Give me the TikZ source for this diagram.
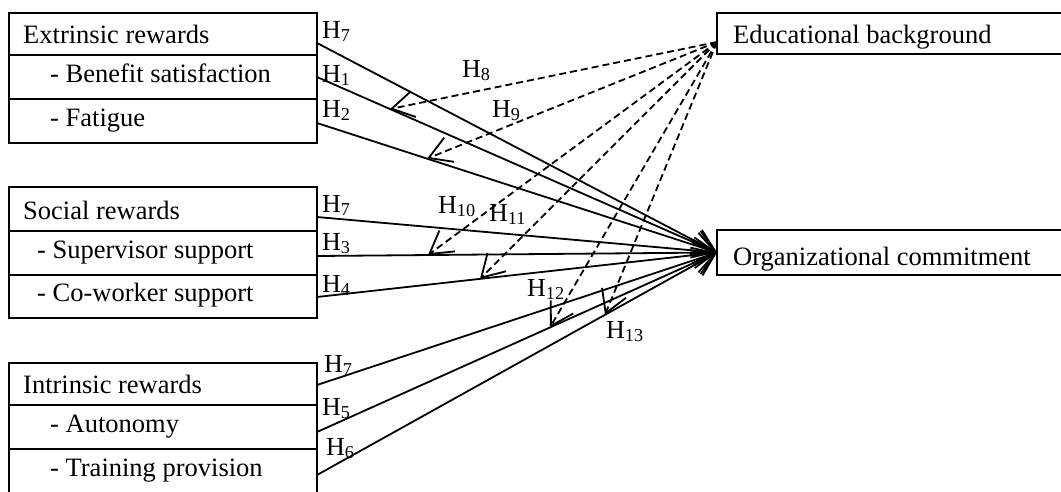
\documentclass[tikz,border=0pt]{standalone}
\usepackage{fontspec}
\setmainfont{Liberation Serif}
\usetikzlibrary{arrows.meta,calc}
\begin{document}
\begin{tikzpicture}[x=1pt,y=-1pt,
  rowbox/.style={draw, line width=2.6pt, minimum width=308pt, inner sep=0pt, outer sep=0pt},
  rbox/.style={draw, line width=2.6pt, minimum width=353pt, inner sep=0pt, outer sep=0pt},
  txt/.style={anchor=base west, inner sep=0pt, font=\fontsize{26.5}{30}\selectfont},
  hlab/.style={anchor=base west, inner sep=0pt, font=\fontsize{26}{30}\selectfont},
  conn/.style={line width=1.8pt, -{Straight Barb[length=22pt, width=26pt]}},
  modline/.style={line width=1.8pt, dash pattern=on 7pt off 4pt, -{Straight Barb[length=22pt, width=26pt]}}
]
\clip (0,0) rectangle (1061,491);
% left boxes
\node[rowbox, minimum height=42pt] (ext)  at (163,34) {};
\node[rowbox, minimum height=44pt] (ext1) at (163,77) {};
\node[rowbox, minimum height=44pt] (ext2) at (163,121) {};
\node[rowbox, minimum height=44pt] (soc)  at (163,209) {};
\node[rowbox, minimum height=44pt] (soc1) at (163,253) {};
\node[rowbox, minimum height=43pt] (soc2) at (163,296.5) {};
\node[rowbox, minimum height=42pt] (int)  at (163,384) {};
\node[rowbox, minimum height=44pt] (int1) at (163,427) {};
\node[rowbox, minimum height=51pt] (int2) at (163,474.5) {};
% right boxes
\node[rbox, minimum height=41pt] (edu) at (893.5,33.5) {};
\node[rbox, minimum height=45pt] (org) at (893.5,252.5) {};
% texts
\node[txt] (t0) at (23,43)  {Extrinsic rewards};
\node[txt] (t1) at (50,82)  {- Benefit satisfaction};
\node[txt] (t2) at (50,126) {- Fatigue};
\node[txt] (t3) at (23,219) {Social rewards};
\node[txt] (t4) at (37,258) {- Supervisor support};
\node[txt] (t5) at (37,301) {- Co-worker support};
\node[txt] (t6) at (23,393) {Intrinsic rewards};
\node[txt] (t7) at (50,432) {- Autonomy};
\node[txt] (t8) at (50,476) {- Training provision};
\node[txt] (t9) at (733,43) {Educational background};
\node[txt] (t10) at (733,265) {Organizational commitment};
% start coordinates
\coordinate (s0) at (317,43);
\coordinate (s1) at (317,77);
\coordinate (s2) at (317,123);
\coordinate (s3) at (317,217);
\coordinate (s4) at (317,256);
\coordinate (s5) at (317,297);
\coordinate (s6) at (317,385);
\coordinate (s7) at (317,432);
\coordinate (s8) at (317,475);
\coordinate (eo) at (717,42);
% moderation targets on direct paths
\coordinate (m8)  at ($(s1)!0.1825!(org.west)$);
\coordinate (m9)  at ($(s2)!0.275!(org.west)$);
\coordinate (m10) at ($(s4)!0.2775!(org.west)$);
\coordinate (m11) at ($(s5)!0.4075!(org.west)$);
\coordinate (m12) at ($(s7)!0.5825!(org.west)$);
\coordinate (m13) at ($(s8)!0.72!(org.west)$);
% direct effects
\foreach \s in {s0,s1,s2,s3,s4,s5,s6,s7,s8}{
  \draw[conn] (\s) -- (org.west);
}
% moderating effects
\foreach \m in {m8,m9,m10,m11,m12,m13}{
  \draw[modline] (eo) -- (\m);
}
% labels
\node[hlab] (h7a) at (322,38)  {H\textsubscript{7}};
\node[hlab] (h1)  at (322,82)  {H\textsubscript{1}};
\node[hlab] (h2)  at (322,117) {H\textsubscript{2}};
\node[hlab] (h8)  at (462,77)  {H\textsubscript{8}};
\node[hlab] (h9)  at (492,117) {H\textsubscript{9}};
\node[hlab] (h7b) at (322,212) {H\textsubscript{7}};
\node[hlab] (h3)  at (322,250) {H\textsubscript{3}};
\node[hlab] (h4)  at (322,292) {H\textsubscript{4}};
\node[hlab] (h10) at (438,213) {H\textsubscript{10}};
\node[hlab] (h11) at (489,221) {H\textsubscript{11}};
\node[hlab] (h12) at (527,296) {H\textsubscript{12}};
\node[hlab] (h13) at (606,338) {H\textsubscript{13}};
\node[hlab] (h7c) at (324,372) {H\textsubscript{7}};
\node[hlab] (h5)  at (322,415) {H\textsubscript{5}};
\node[hlab] (h6)  at (326,455) {H\textsubscript{6}};
\end{tikzpicture}
\end{document}
